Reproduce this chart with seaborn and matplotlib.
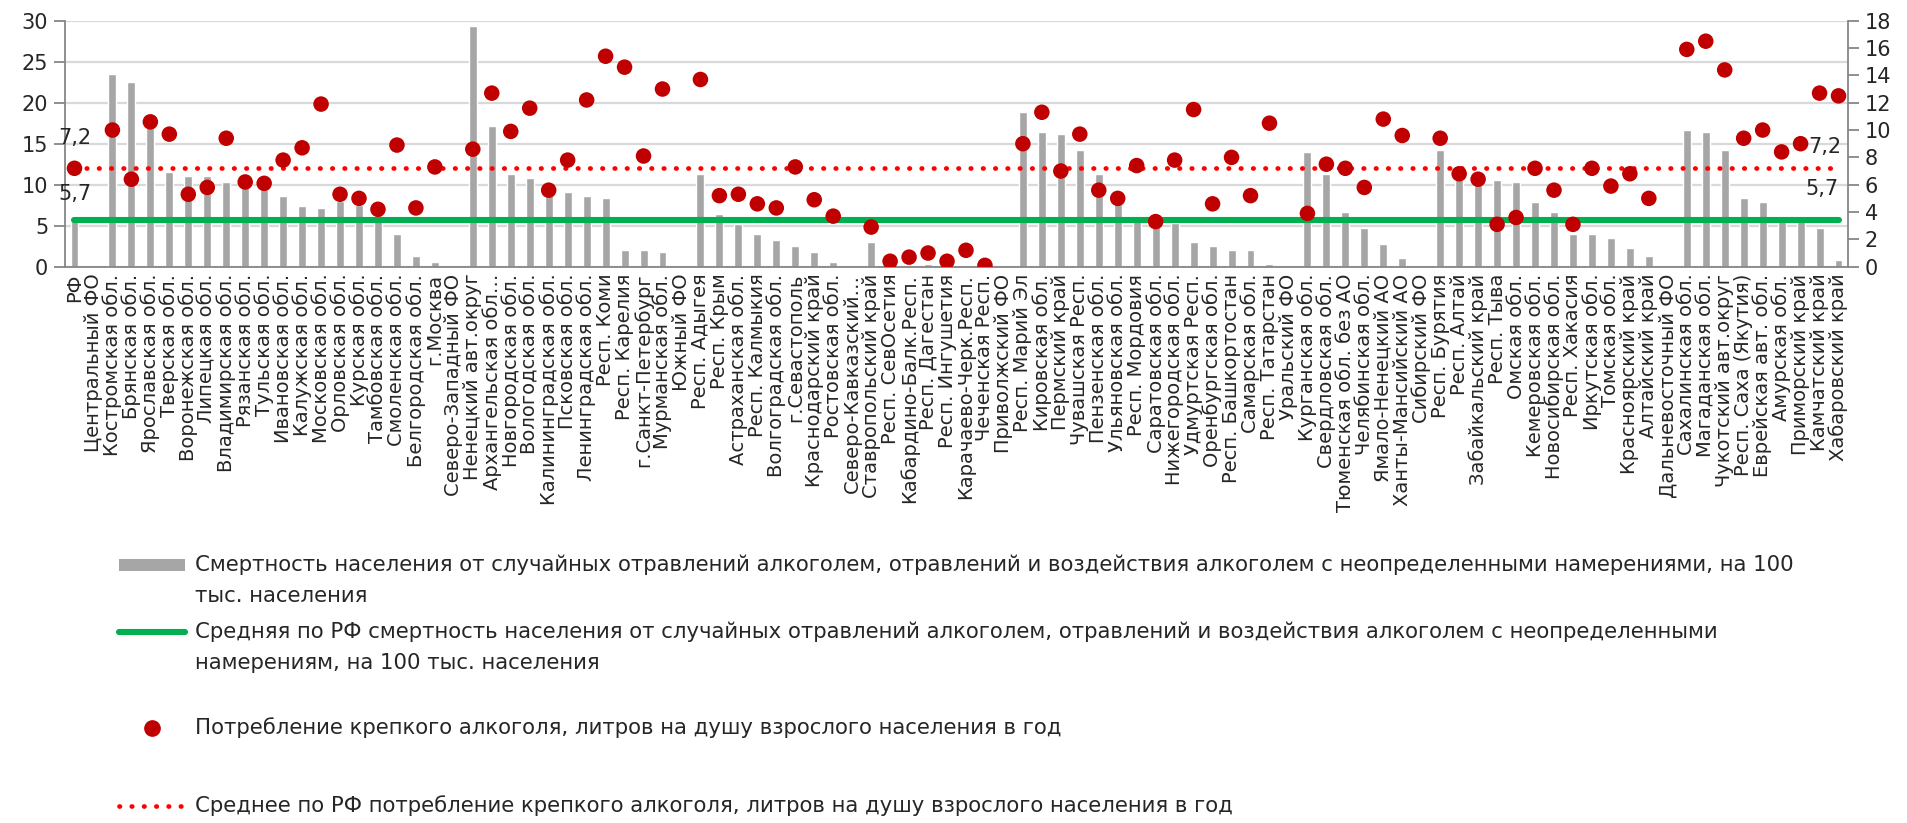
import matplotlib
matplotlib.use("Agg")
import matplotlib.pyplot as plt
from matplotlib.lines import Line2D
from matplotlib.patches import Rectangle
import numpy as np
import pandas as pd
import seaborn as sns

nan = np.nan

regions = [
    "РФ", "Центральный ФО", "Костромская обл.", "Брянская обл.", "Ярославская обл.",
    "Тверская обл.", "Воронежская обл.", "Липецкая обл.", "Владимирская обл.", "Рязанская обл.",
    "Тульская обл.", "Ивановская обл.", "Калужская обл.", "Московская обл.", "Орловская обл.",
    "Курская обл.", "Тамбовская обл.", "Смоленская обл.", "Белгородская обл.", "г.Москва",
    "Северо-Западный ФО", "Ненецкий авт.округ", "Архангельская обл…", "Новгородская обл.",
    "Вологодская обл.", "Калининградская обл.", "Псковская обл.", "Ленинградская обл.",
    "Респ. Коми", "Респ. Карелия", "г.Санкт-Петербург", "Мурманская обл.", "Южный ФО",
    "Респ. Адыгея", "Респ. Крым", "Астраханская обл.", "Респ. Калмыкия", "Волгоградская обл.",
    "г.Севастополь", "Краснодарский край", "Ростовская обл.", "Северо-Кавказский…",
    "Ставропольский край", "Респ. СевОсетия", "Кабардино-Балк.Респ.", "Респ. Дагестан",
    "Респ. Ингушетия", "Карачаево-Черк.Респ.", "Чеченская Респ.", "Приволжский ФО",
    "Респ. Марий Эл", "Кировская обл.", "Пермский край", "Чувашская Респ.", "Пензенская обл.",
    "Ульяновская обл.", "Респ. Мордовия", "Саратовская обл.", "Нижегородская обл.",
    "Удмуртская Респ.", "Оренбургская обл.", "Респ. Башкортостан", "Самарская обл.",
    "Респ. Татарстан", "Уральский ФО", "Курганская обл.", "Свердловская обл.",
    "Тюменская обл. без АО", "Челябинская обл.", "Ямало-Ненецкий АО", "Ханты-Мансийский АО",
    "Сибирский ФО", "Респ. Бурятия", "Респ. Алтай", "Забайкальский край", "Респ. Тыва",
    "Омская обл.", "Кемеровская обл.", "Новосибирская обл.", "Респ. Хакасия", "Иркутская обл.",
    "Томская обл.", "Красноярский край", "Алтайский край", "Дальневосточный ФО",
    "Сахалинская обл.", "Магаданская обл.", "Чукотский авт.округ", "Респ. Саха (Якутия)",
    "Еврейская авт. обл.", "Амурская обл.", "Приморский край", "Камчатский край",
    "Хабаровский край",
]

# deaths per 100k (left axis)
mortality = [
    5.7, nan, 23.5, 22.5, 17.5, 11.5, 11.1, 11.1, 10.3, 9.9,
    9.5, 8.6, 7.4, 7.2, 8.0, 7.5, 6.3, 4.0, 1.3, 0.6,
    nan, 29.3, 17.2, 11.3, 10.8, 9.6, 9.1, 8.6, 8.4, 2.0,
    2.0, 1.8, nan, 11.3, 6.4, 5.2, 4.0, 3.3, 2.5, 1.8,
    0.6, nan, 3.0, 1.5, 0.0, 0.3, 0.0, 0.0, 0.0, nan,
    18.9, 16.4, 16.2, 14.2, 11.3, 8.0, 6.2, 5.5, 5.3, 3.0,
    2.5, 2.0, 2.0, 0.3, nan, 14.0, 11.3, 6.7, 4.7, 2.8,
    1.1, nan, 14.2, 11.2, 10.5, 10.6, 10.3, 7.9, 6.7, 4.0,
    4.0, 3.5, 2.3, 1.3, nan, 16.7, 16.4, 14.2, 8.4, 7.9,
    5.8, 5.7, 4.7, 0.8,
]

# strong alcohol, litres per adult per year (right axis)
consumption = [
    7.2, nan, 10.0, 6.4, 10.6, 9.7, 5.3, 5.8, 9.4, 6.2,
    6.1, 7.8, 8.7, 11.9, 5.3, 5.0, 4.2, 8.9, 4.3, 7.3,
    nan, 8.6, 12.7, 9.9, 11.6, 5.6, 7.8, 12.2, 15.4, 14.6,
    8.1, 13.0, nan, 13.7, 5.2, 5.3, 4.6, 4.3, 7.3, 4.9,
    3.7, nan, 2.9, 0.4, 0.7, 1.0, 0.4, 1.2, 0.1, nan,
    9.0, 11.3, 7.0, 9.7, 5.6, 5.0, 7.4, 3.3, 7.8, 11.5,
    4.6, 8.0, 5.2, 10.5, nan, 3.9, 7.5, 7.2, 5.8, 10.8,
    9.6, nan, 9.4, 6.8, 6.4, 3.1, 3.6, 7.2, 5.6, 3.1,
    7.2, 5.9, 6.8, 5.0, nan, 15.9, 16.5, 14.4, 9.4, 10.0,
    8.4, 9.0, 12.7, 12.5,
]

mortality_avg = 5.7
consumption_avg = 7.2

legend_texts = [
    ["Смертность населения от случайных отравлений алкоголем, отравлений и воздействия алкоголем с неопределенными намерениями, на 100",
     "тыс. населения"],
    ["Средняя по РФ смертность населения от случайных отравлений алкоголем, отравлений и воздействия алкоголем с неопределенными",
     "намерениям, на 100 тыс. населения"],
    ["Потребление крепкого алкоголя, литров на душу взрослого населения в год"],
    ["Среднее по РФ потребление крепкого алкоголя, литров на душу взрослого населения в год"],
]

BAR = "#A6A6A6"
GREEN = "#00B050"
DOT = "#C00000"
RED = "#FF0000"
AXIS = "#868686"
GRID = "#D9D9D9"

sns.set_style("white")
plt.rcParams["font.family"] = ["DejaVu Sans"]

df = pd.DataFrame({"region": regions, "mortality": mortality, "consumption": consumption})
n = len(regions)
xs = np.arange(n)

fig = plt.figure(figsize=(19.08, 8.23), dpi=100)
ax = fig.add_axes([65 / 1908, 1 - 266.7 / 823, (1848 - 65) / 1908, (266.7 - 20.7) / 823])

sns.barplot(data=df, x="region", y="mortality", order=regions, color=BAR,
            saturation=1, width=0.42, errorbar=None, ax=ax)
ax.plot(xs, [mortality_avg] * n, color=GREEN, lw=4.4, solid_capstyle="round", zorder=3)

ax.set_ylim(0, 30)
ax.set_yticks(range(0, 31, 5))
ax.set_xlim(-0.5, n - 0.5)
ax.set_axisbelow(True)
ax.yaxis.grid(True, color=GRID, lw=1.6)
ax.set_xlabel("")
ax.set_ylabel("")

ax.set_xticks(xs)
ax.set_xticklabels(regions, rotation=90, fontsize=14)
ax.set_xticks(np.arange(-0.5, n, 1), minor=True)
ax.tick_params(axis="x", which="major", length=0, pad=5)
ax.tick_params(axis="x", which="minor", length=8, width=1.3, color=AXIS, direction="out")
ax.tick_params(axis="y", length=8, width=1.3, color=AXIS, direction="out", labelsize=15, pad=4)
for side in ["top", "right"]:
    ax.spines[side].set_visible(False)
for side in ["left", "bottom"]:
    ax.spines[side].set_color(AXIS)
    ax.spines[side].set_linewidth(1.3)

ax2 = ax.twinx()
ax2.plot(xs, [consumption_avg] * n, color=RED, lw=3.4, linestyle=(0, (0.1, 2.5)),
         dash_capstyle="round", zorder=2)
sns.scatterplot(x=xs, y=consumption, ax=ax2, color=DOT, s=125, edgecolor="none",
                linewidth=0, zorder=3)
ax2.set_ylim(0, 18)
ax2.set_yticks(range(0, 19, 2))
ax2.set_xlim(-0.5, n - 0.5)
ax2.set_ylabel("")
ax2.tick_params(axis="y", length=8, width=1.3, color=AXIS, direction="out", labelsize=15, pad=4)
for side in ["top", "left", "bottom"]:
    ax2.spines[side].set_visible(False)
ax2.spines["right"].set_color(AXIS)
ax2.spines["right"].set_linewidth(1.3)

# data labels on the average series
ax2.annotate("7,2", (0, consumption_avg), xytext=(0, 22), textcoords="offset points",
             ha="center", va="center", fontsize=15)
ax.annotate("5,7", (0, mortality_avg), xytext=(0, 19), textcoords="offset points",
            ha="center", va="center", fontsize=15)
ax2.annotate("7,2", (n - 1, consumption_avg), xytext=(-10, 15), textcoords="offset points",
             ha="center", va="center", fontsize=15)
ax.annotate("5,7", (n - 1, mortality_avg), xytext=(-12, 22), textcoords="offset points",
            ha="center", va="center", fontsize=15)

# legend below the chart
def fy(px):
    return 1 - px / 823

x0, x1, tx = 119 / 1908, 185 / 1908, 195 / 1908
fig.add_artist(Rectangle((x0, fy(571)), x1 - x0, 12 / 823, transform=fig.transFigure,
                         facecolor=BAR, edgecolor="none"))
fig.add_artist(Line2D([x0, x1], [fy(632), fy(632)], transform=fig.transFigure,
                      color=GREEN, lw=4.4))
fig.add_artist(Line2D([(x0 + x1) / 2], [fy(728)], transform=fig.transFigure,
                      color=DOT, marker="o", markersize=11, linestyle="none"))
fig.add_artist(Line2D([x0, x1], [fy(806), fy(806)], transform=fig.transFigure,
                      color=RED, lw=3.4, linestyle=(0, (0.1, 2.5)), dash_capstyle="round"))

line_rows = [[565, 596], [632, 663], [728], [806]]
for lines, rows in zip(legend_texts, line_rows):
    for txt, row in zip(lines, rows):
        fig.text(tx, fy(row), txt, ha="left", va="center", fontsize=15.3)

fig.savefig("out.png", dpi=100)
